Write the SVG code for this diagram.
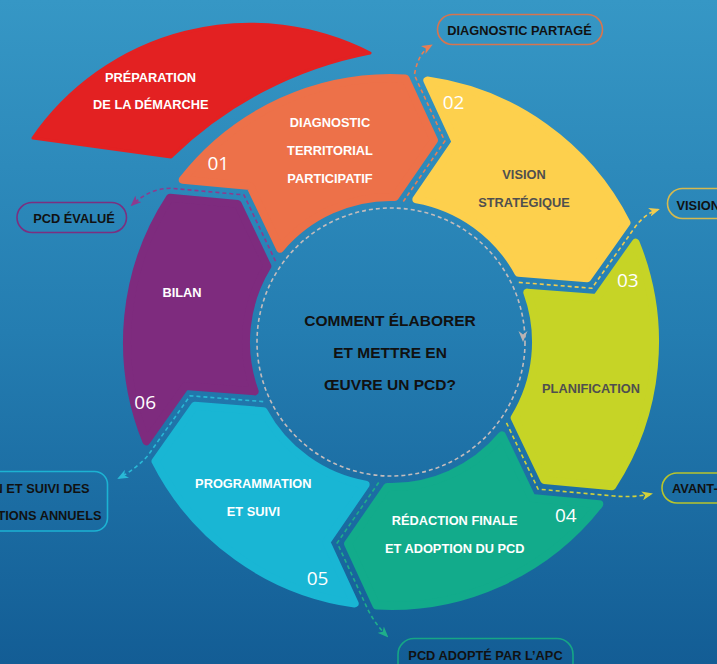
<svg xmlns="http://www.w3.org/2000/svg" width="717" height="664" viewBox="0 0 717 664">
<defs>
<linearGradient id="bg" x1="0" y1="0" x2="0" y2="1">
<stop offset="0" stop-color="#3697c5"/>
<stop offset="0.5" stop-color="#247db1"/>
<stop offset="1" stop-color="#135d95"/>
</linearGradient>
<path id="seg" d="M-61.08,-131.54 L-61.69,-200.93 L-120.21,-235.05 A264,264 0 0 1 124.5,-232.8 L124.23,-164.78 L64.74,-129.74 A145,145 0 0 0 -61.08,-131.54 Z"/>
<marker id="mOr" markerUnits="userSpaceOnUse" markerWidth="11" markerHeight="9" refX="9" refY="4.5" orient="auto"><path d="M0,0 L11,4.5 L0,9 L3,4.5 Z" fill="#ea7d52"/></marker>
<marker id="mYe" markerUnits="userSpaceOnUse" markerWidth="11" markerHeight="9" refX="9" refY="4.5" orient="auto"><path d="M0,0 L11,4.5 L0,9 L3,4.5 Z" fill="#f2cc4e"/></marker>
<marker id="mLi" markerUnits="userSpaceOnUse" markerWidth="11" markerHeight="9" refX="9" refY="4.5" orient="auto"><path d="M0,0 L11,4.5 L0,9 L3,4.5 Z" fill="#d2d23a"/></marker>
<marker id="mTe" markerUnits="userSpaceOnUse" markerWidth="11" markerHeight="9" refX="9" refY="4.5" orient="auto"><path d="M0,0 L11,4.5 L0,9 L3,4.5 Z" fill="#1fae8a"/></marker>
<marker id="mCy" markerUnits="userSpaceOnUse" markerWidth="11" markerHeight="9" refX="9" refY="4.5" orient="auto"><path d="M0,0 L11,4.5 L0,9 L3,4.5 Z" fill="#29b9d6"/></marker>
<marker id="mPu" markerUnits="userSpaceOnUse" markerWidth="11" markerHeight="9" refX="9" refY="4.5" orient="auto"><path d="M0,0 L11,4.5 L0,9 L3,4.5 Z" fill="#8e3a8e"/></marker>
<style>
.seg{stroke-width:8;stroke-linejoin:round}
.t{font-family:"Liberation Sans",Arial,sans-serif;font-weight:bold;font-size:12.8px;text-anchor:middle}
.w{fill:#ffffff}
.d{fill:#4f4f4f}
.n{font-family:"Open Sans","DejaVu Sans",sans-serif;font-size:19px;fill:#ffffff}
.lbl{font-family:"Liberation Sans",Arial,sans-serif;font-weight:bold;font-size:12.8px;fill:#111111}
.pill{fill:none;stroke-width:1.6}
.dash{fill:none;stroke-width:1.6;stroke-dasharray:4 3}
.ctr{font-family:"Liberation Sans",Arial,sans-serif;font-weight:bold;font-size:15.5px;fill:#111111;text-anchor:middle}
</style>
</defs>
<rect x="0" y="0" width="717" height="664" fill="url(#bg)"/>

<g id="preparation">
<path d="M33,138 A264,264 0 0 1 370,53 A392,392 0 0 0 171,157 Z" fill="#e32122" stroke="#e32122" stroke-width="3" stroke-linejoin="round"/>
<text class="t w" x="150.5" y="82">PRÉPARATION</text>
<text class="t w" x="150.8" y="109">DE LA DÉMARCHE</text>
</g>

<g id="etape-01">
<use href="#seg" class="seg" fill="#ed7149" stroke="#ed7149" transform="translate(391,342) rotate(-25)"/>
<text class="t w" x="330" y="126.5">DIAGNOSTIC</text>
<text class="t w" x="330" y="154.5">TERRITORIAL</text>
<text class="t w" x="330" y="182.5">PARTICIPATIF</text>
<text class="n" x="207.5" y="169.5">01</text>
</g>

<g id="etape-02">
<use href="#seg" class="seg" fill="#fdd04d" stroke="#fdd04d" transform="translate(391,342) rotate(35)"/>
<text class="t d" x="524" y="179">VISION</text>
<text class="t d" x="524" y="206.7">STRATÉGIQUE</text>
<text class="n" x="442.7" y="109">02</text>
</g>

<g id="etape-03">
<use href="#seg" class="seg" fill="#c6d426" stroke="#c6d426" transform="translate(391,342) rotate(95)"/>
<text class="t d" x="591" y="393.3">PLANIFICATION</text>
<text class="n" x="617" y="287.3">03</text>
</g>

<g id="etape-04">
<use href="#seg" class="seg" fill="#12ab8b" stroke="#12ab8b" transform="translate(391,342) rotate(155)"/>
<text class="t w" x="454.7" y="525">RÉDACTION FINALE</text>
<text class="t w" x="454.8" y="552.7">ET ADOPTION DU PCD</text>
<text class="n" x="555" y="522.3">04</text>
</g>

<g id="etape-05">
<use href="#seg" class="seg" fill="#19b6d4" stroke="#19b6d4" transform="translate(391,342) rotate(215)"/>
<text class="t w" x="253.3" y="488.3">PROGRAMMATION</text>
<text class="t w" x="253.5" y="516">ET SUIVI</text>
<text class="n" x="306.7" y="585">05</text>
</g>

<g id="etape-06">
<use href="#seg" class="seg" fill="#7e2b7e" stroke="#7e2b7e" transform="translate(391,342) rotate(275)"/>
<text class="t w" x="182" y="297.3">BILAN</text>
<text class="n" x="134.3" y="409.3">06</text>
</g>

<g id="centre">
<circle cx="391" cy="342" r="134" fill="none" stroke="#c4bcbc" stroke-width="1.6" stroke-dasharray="4 3"/>
<path d="M518.5,331 L523,334.5 L527.5,331 L523,342 Z" fill="#b9b3b3"/>
<text class="ctr" x="390" y="326">COMMENT ÉLABORER</text>
<text class="ctr" x="390" y="357.5">ET METTRE EN</text>
<text class="ctr" x="390" y="389.5">ŒUVRE UN PCD?</text>
</g>

<g id="connecteurs">
<path class="dash" stroke="#ea7d52" marker-end="url(#mOr)" d="M403.3,201.5 L444.8,141.1 L414.4,75 Q418,53 431,45.5"/>
<path class="dash" stroke="#f2cc4e" marker-end="url(#mYe)" d="M518.8,282.4 L591.9,288.2 L633.9,228.7 Q644,214 658,209.5"/>
<path class="dash" stroke="#d2d23a" marker-end="url(#mLi)" d="M506.5,422.9 L538.1,489.1 L610.5,495.7 Q632,498 651,494"/>
<path class="dash" stroke="#1fae8a" marker-end="url(#mTe)" d="M378.7,482.5 L337.2,542.9 L367.6,609 Q375,624 387,636"/>
<path class="dash" stroke="#29b9d6" marker-end="url(#mCy)" d="M263.2,401.6 L190.1,395.8 L148.1,455.3 Q136,469 119,478"/>
<path class="dash" stroke="#8e3a8e" marker-end="url(#mPu)" d="M275.5,261.1 L243.9,194.9 L171.5,188.3 Q150,188 132,205"/>
</g>

<g id="label-diagnostic-partage">
<rect class="pill" x="437.5" y="14.5" width="165" height="30" rx="15" stroke="#d8744e"/>
<text class="lbl" x="519.5" y="34.5" text-anchor="middle">DIAGNOSTIC PARTAGÉ</text>
</g>
<g id="label-vision">
<rect class="pill" x="667.5" y="188.5" width="90" height="30" rx="15" stroke="#d6b94e"/>
<text class="lbl" x="676.5" y="209.5">VISION</text>
</g>
<g id="label-avant">
<rect class="pill" x="662" y="473" width="90" height="30" rx="15" stroke="#b8c42c"/>
<text class="lbl" x="672" y="493">AVANT-</text>
</g>
<g id="label-pcd-adopte">
<rect class="pill" x="398" y="638.5" width="175" height="40" rx="16" stroke="#16a685"/>
<text class="lbl" x="485.5" y="659.5" text-anchor="middle">PCD ADOPTÉ PAR L’APC</text>
</g>
<g id="label-suivi">
<rect class="pill" x="-30" y="471.5" width="137.5" height="59.5" rx="13" stroke="#1cb3d3"/>
<text class="lbl" x="89.5" y="492.7" text-anchor="end">N ET SUIVI DES</text>
<text class="lbl" x="101.5" y="520" text-anchor="end">TIONS ANNUELS</text>
</g>
<g id="label-pcd-evalue">
<rect class="pill" x="17" y="202.5" width="109.5" height="30" rx="15" stroke="#7c2f80"/>
<text class="lbl" x="74" y="222.5" text-anchor="middle">PCD ÉVALUÉ</text>
</g>
</svg>
